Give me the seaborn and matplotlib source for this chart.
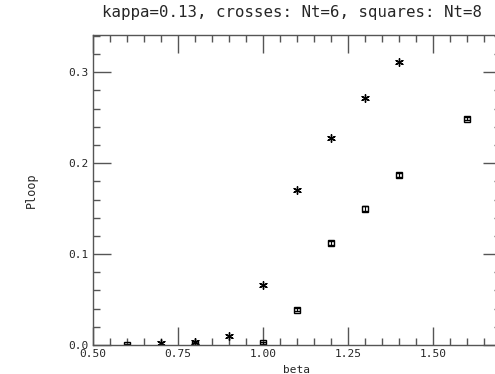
import numpy as np
import pandas as pd
import matplotlib
matplotlib.use("Agg")
import matplotlib.pyplot as plt
import seaborn as sns
from matplotlib.ticker import MultipleLocator, FormatStrFormatter

# ── Data ───────────────────────────────────────────────
beta_nt6 = [0.7, 0.8, 0.9, 1.0, 1.1, 1.2, 1.3, 1.4]
ploop_nt6 = [0.002, 0.003, 0.010, 0.066, 0.171, 0.228, 0.272, 0.311]

beta_nt8 = [0.6, 0.8, 1.0, 1.1, 1.2, 1.3, 1.4, 1.6]
ploop_nt8 = [0.000, 0.001, 0.002, 0.039, 0.112, 0.150, 0.187, 0.249]
err_nt8 = [0.001, 0.001, 0.001, 0.002, 0.002, 0.003, 0.002, 0.002]

df6 = pd.DataFrame({"beta": beta_nt6, "Ploop": ploop_nt6})
df8 = pd.DataFrame({"beta": beta_nt8, "Ploop": ploop_nt8, "err": err_nt8})

# ── Figure ─────────────────────────────────────────────
sns.set_style("white")
plt.rcParams['font.family'] = ['DejaVu Sans Mono']
axc = "#555555"

fig = plt.figure(figsize=(4.95, 3.74), dpi=100)
# axes runs a bit past the right edge, as in the reference
ax = fig.add_axes([93 / 495, 29 / 374, 408 / 495, 310 / 374])

sns.scatterplot(data=df6, x="beta", y="Ploop", ax=ax, marker=(6, 2, 0),
                s=30, color="black", linewidth=1.0, legend=False)
ax.errorbar(df8["beta"], df8["Ploop"], yerr=df8["err"], fmt="s", ms=5,
            mfc="none", mec="black", mew=1.0, ecolor="black", elinewidth=0.8,
            capsize=2.5, capthick=0.8)

ax.set_xlim(0.5, 1.7)
ax.set_ylim(0.0, 0.341)
ax.xaxis.set_major_locator(MultipleLocator(0.25))
ax.xaxis.set_minor_locator(MultipleLocator(0.05))
ax.yaxis.set_major_locator(MultipleLocator(0.1))
ax.yaxis.set_minor_locator(MultipleLocator(0.02))
ax.xaxis.set_major_formatter(FormatStrFormatter("%.2f"))
ax.yaxis.set_major_formatter(FormatStrFormatter("%.1f"))

ax.tick_params(which="both", direction="in", top=True, right=True,
               bottom=True, left=True, color=axc, labelsize=8,
               width=1.0, pad=3)
ax.tick_params(which="major", length=13)
ax.tick_params(which="minor", length=5)
for sp in ax.spines.values():
    sp.set_color(axc)
    sp.set_linewidth(1.0)

ax.set_xlabel("beta", fontsize=8, labelpad=4)
ax.set_ylabel("Ploop", fontsize=8.5, labelpad=22)
fig.text(102 / 495, 1 - 12 / 374, "kappa=0.13, crosses: Nt=6, squares: Nt=8",
         ha="left", va="center", fontsize=11.3)

fig.savefig("out.png", dpi=100)
